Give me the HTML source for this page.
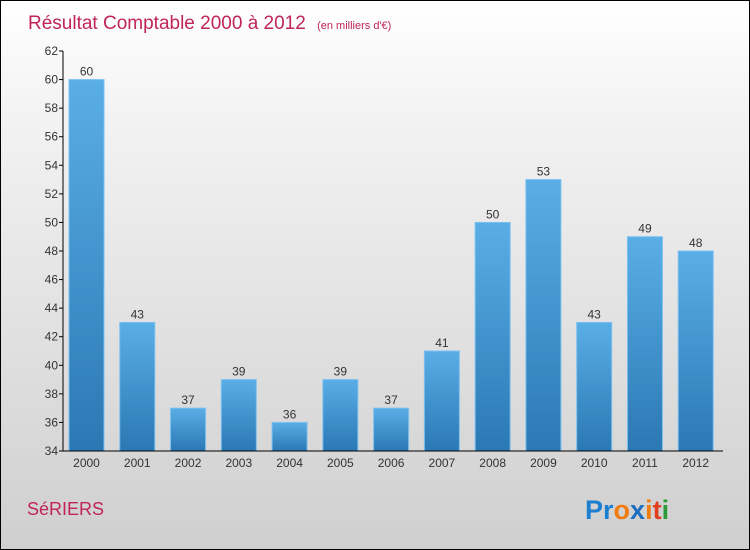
<!DOCTYPE html>
<html><head><meta charset="utf-8"><style>
body{margin:0}
#c{width:750px;height:550px;position:relative;overflow:hidden;box-sizing:border-box;border:1px solid #000;background:linear-gradient(#ffffff,#f3f3f3 20%,#cfcfcf);font-family:"Liberation Sans",sans-serif}
</style></head><body>
<div id="c">
<svg id="s" width="750" height="550" style="position:absolute;left:0;top:0">
<defs><linearGradient id="g" x1="0" y1="0" x2="0" y2="1"><stop offset="0" stop-color="#5aaee6"/><stop offset="1" stop-color="#2a78b4"/></linearGradient></defs>
<text x="27" y="28" font-size="19" fill="#c0245a">Résultat Comptable 2000 à 2012 <tspan font-size="11" dx="6">(en milliers d'€)</tspan></text>
<text x="26" y="514" font-size="18" fill="#c0245a">SéRIERS</text>
<text x="584" y="518" font-size="27" font-weight="bold"><tspan fill="#1e7fd0">Pr</tspan><tspan fill="#f07c10">o</tspan><tspan fill="#1e6fc0">x</tspan><tspan fill="#f07c10">i</tspan><tspan fill="#e04020">t</tspan><tspan fill="#2a9a3a">i</tspan></text>
<g id="plot"></g>
</svg>
</div>
<script>
const categories=["2000","2001","2002","2003","2004","2005","2006","2007","2008","2009","2010","2011","2012"];
const values=[60,43,37,39,36,39,37,41,50,53,43,49,48];
const yTicks=[34,36,38,40,42,44,46,48,50,52,54,56,58,60,62];
const x0=62,x1=722,y0=450,y1=50,ymin=34,ymax=62;
const ns="http://www.w3.org/2000/svg";
const g=document.getElementById('plot');
const Y=v=>y0-(v-ymin)/(ymax-ymin)*(y0-y1);
const bw=(x1-x0)/categories.length;
function mk(t,a,txt){const e=document.createElementNS(ns,t);for(const k in a)e.setAttribute(k,a[k]);if(txt!==undefined)e.textContent=txt;g.appendChild(e);return e;}
categories.forEach((c,i)=>{
 const x=x0+i*bw+6,v=values[i];
 const r=mk('rect',{x:x,y:Y(v),width:35,height:y0-Y(v),fill:'url(#g)',stroke:'#7cc0f0','stroke-width':1});
 
 
 const t=mk('text',{x:x+17.5,y:Y(v)-4,'font-size':12,fill:'#333','text-anchor':'middle'},String(v));
 
 
 const l=mk('text',{x:x+17.5,y:466,'font-size':12,fill:'#333','text-anchor':'middle'},c);
 
 
});
yTicks.forEach(v=>{
 const tk=mk('line',{x1:x0-4,x2:x0,y1:Y(v),y2:Y(v),stroke:'#000'});
 
 
 const t=mk('text',{x:x0-5,y:Y(v)+4,'font-size':12,fill:'#333','text-anchor':'end'},String(v));
 
 
});
const ya=mk('line',{x1:x0,x2:x0,y1:y1,y2:y0,stroke:'#000'});


const xa=mk('line',{x1:x0,x2:x1,y1:y0,y2:y0,stroke:'#000'});


</script>
</body></html>
